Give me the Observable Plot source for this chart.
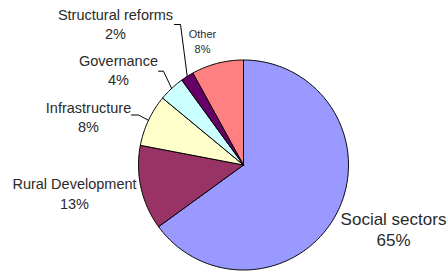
<!DOCTYPE html>
<html>
<head>
<meta charset="utf-8">
<script src="https://cdn.jsdelivr.net/npm/d3@7"></script>
<script src="https://cdn.jsdelivr.net/npm/@observablehq/plot@0.6"></script>
<style>
  html, body { margin: 0; padding: 0; background: #fff; }
  #chart svg { display: block; }
</style>
</head>
<body>
<div id="chart"></div>
<script>
// ---- data ----
const categories = ["Social sectors", "Rural Development", "Infrastructure", "Governance", "Structural reforms", "Other"];
const shares = [65, 13, 8, 4, 2, 8];

// ---- styles ----
const colors = ["#9999FF", "#993366", "#FFFFCC", "#CCFFFF", "#660066", "#FF8080"];
const fontSizes = [17, 14.5, 14.5, 14.5, 14.5, 11];
const font = "Liberation Sans";

// ---- layout (chart units = pixels, y downward) ----
const W = 448, H = 272;
const CX = 243, CY = 164.5, R = 105;
// label centre x, first-line baseline, second-line baseline
const labelX = [393, 74, 88, 118, 115, 202];
const labelY1 = [224, 188, 112, 65, 19.5, 37];
const labelY2 = [245, 208, 131, 84, 38, 52.5];
// leader lines: [label end x, elbow x, elbow y] or null
const leaders = [null, null, [131, 138, 114.5], [158, 163, 70.7], [174, 180, 24], null];

// ---- geometry from the library ----
const arcs = d3.pie().sort(null).startAngle(0).endAngle(2 * Math.PI)(shares);
const pt = (a, r) => ({x: CX + r * Math.sin(a), y: CY - r * Math.cos(a)});

const slicePts = [];
arcs.forEach((a, i) => {
  const name = categories[i];
  slicePts.push({name, ...pt(0, 0)});
  const n = Math.max(2, Math.ceil((a.endAngle - a.startAngle) / (Math.PI / 180)));
  for (let k = 0; k <= n; k++) {
    const ang = a.startAngle + (a.endAngle - a.startAngle) * k / n;
    slicePts.push({name, ...pt(ang, R)});
  }
  slicePts.push({name, ...pt(0, 0)});
});

const leaderPts = [];
arcs.forEach((a, i) => {
  const L = leaders[i];
  if (!L) return;
  const mid = (a.startAngle + a.endAngle) / 2;
  const s = pt(mid, R);
  leaderPts.push({name: categories[i], x: s.x, y: s.y});
  leaderPts.push({name: categories[i], x: L[1], y: L[2]});
  leaderPts.push({name: categories[i], x: L[0], y: L[2]});
});

const labels = categories.map((c, i) => ({
  name: c, pct: shares[i] + "%", x: labelX[i], y1: labelY1[i], y2: labelY2[i], fs: fontSizes[i]
}));

const marks = [
  Plot.line(slicePts, {x: "x", y: "y", z: "name", fill: "name", stroke: "#000", strokeWidth: 1, strokeLinejoin: "round", curve: "linear"}),
  Plot.line(leaderPts, {x: "x", y: "y", z: "name", stroke: "#000", strokeWidth: 1})
];
labels.forEach(l => {
  marks.push(Plot.text([l], {x: "x", y: "y1", text: "name", fontSize: l.fs, fontFamily: font, lineAnchor: "bottom", textAnchor: "middle", fill: "#2a2a2a"}));
  marks.push(Plot.text([l], {x: "x", y: "y2", text: "pct", fontSize: l.fs, fontFamily: font, lineAnchor: "bottom", textAnchor: "middle", fill: "#2a2a2a"}));
});

const chart = Plot.plot({
  width: W, height: H,
  margin: 0,
  style: {background: "#fff"},
  x: {domain: [0, W], range: [0, W], axis: null},
  y: {domain: [0, H], range: [0, H], axis: null},
  color: {domain: categories, range: colors},
  marks
});
document.getElementById("chart").append(chart);
</script>
</body>
</html>
